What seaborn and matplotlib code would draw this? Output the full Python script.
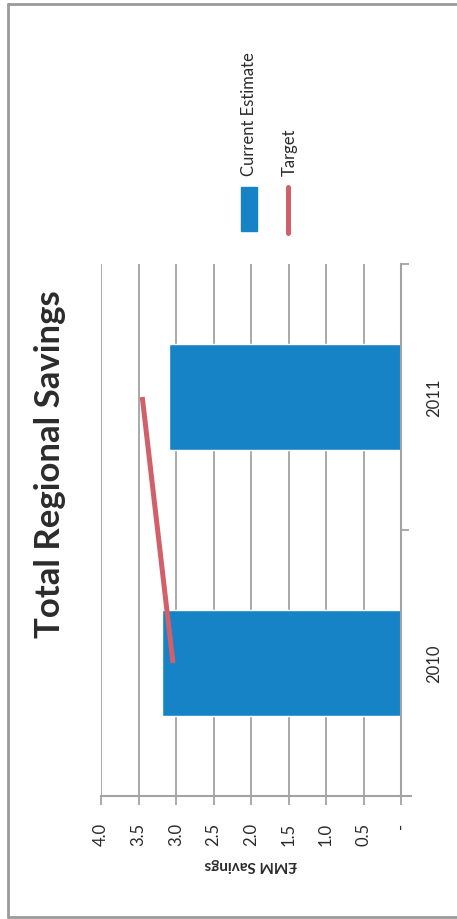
import matplotlib
matplotlib.use("Agg")
import matplotlib.pyplot as plt
import seaborn as sns
import numpy as np
from matplotlib.ticker import FuncFormatter
from matplotlib.patches import Rectangle
from matplotlib.lines import Line2D

# Data
years = ['2010', '2011']
current_estimate = [3.19, 3.09]
target = [3.04, 3.45]
value_ticks = [0, 0.5, 1.0, 1.5, 2.0, 2.5, 3.0, 3.5, 4.0]

BLUE = '#1683C6'
RED = '#D2606A'
GRID = '#a3a3a3'
TEXT = '#2b2b2b'

sns.set_theme(style='white')
plt.rcParams['font.family'] = ['Lato', 'DejaVu Sans']

W, H = 457, 920
fig = plt.figure(figsize=(W / 100, H / 100), dpi=100)

# chart is drawn turned a quarter turn anticlockwise
ax = fig.add_axes([101 / W, 123 / H, 300 / W, 532 / H])
order = years[::-1]  # 2011 on top, 2010 at bottom
sns.barplot(x=current_estimate, y=years, order=order, orient='h',
            color=BLUE, saturation=1, width=0.4, ax=ax)

pos = [order.index(y) for y in years]
ax.plot(target, pos, color=RED, lw=3.6, solid_capstyle='butt')

ax.set_xlim(4.0, 0)
ax.set_ylim(1.5, -0.5)
ax.set_xticks(value_ticks)
ax.xaxis.set_major_formatter(FuncFormatter(lambda v, p: '-' if v == 0 else f'{v:.1f}'))
ax.xaxis.grid(True, color=GRID, lw=1.3)
ax.yaxis.grid(False)
ax.set_axisbelow(True)

ax.tick_params(axis='x', bottom=True, length=6.5, width=1.3, color=GRID,
               labelrotation=90, pad=12, labelsize=12, labelcolor=TEXT)
ax.yaxis.tick_right()
ax.set_yticks([-0.5, 0.5, 1.5], minor=True)
ax.tick_params(axis='y', which='minor', right=True, length=6, width=1.3, color=GRID)
ax.tick_params(axis='y', which='major', length=0, pad=18, labelsize=12, labelcolor=TEXT)
for lbl in ax.get_yticklabels():
    lbl.set_rotation(90)
    lbl.set_va('center')

ax.set_ylabel('')
ax.set_xlabel('£MM Savings', rotation=180, fontweight='bold', fontsize=11,
              color=TEXT, labelpad=9)

for s in ['top', 'left']:
    ax.spines[s].set_visible(False)
for s in ['right', 'bottom']:
    ax.spines[s].set_color(GRID)
    ax.spines[s].set_linewidth(1.5)
ax.spines['bottom'].set_bounds(4.0, -0.13)

# title
fig.text(50 / W, 1 - 464 / H, 'Total Regional Savings', rotation=90,
         ha='center', va='center', fontsize=25, fontweight='bold', color=TEXT)

# legend
fig.patches.append(Rectangle((241 / W, 1 - 232 / H), 16 / W, 44 / H,
                             transform=fig.transFigure, color=BLUE))
fig.lines.append(Line2D([288 / W, 288 / W], [1 - 234 / H, 1 - 188 / H],
                        transform=fig.transFigure, color=RED, lw=3.6))
fig.text(249 / W, 1 - 176 / H, 'Current Estimate', rotation=90,
         ha='center', va='bottom', fontsize=12, color=TEXT)
fig.text(290 / W, 1 - 176 / H, 'Target', rotation=90,
         ha='center', va='bottom', fontsize=12, color=TEXT)

# outer frame
for xs, ys in [([8, 8], [5, 918]), ([8, W], [5, 5]), ([8, W], [918, 918])]:
    fig.lines.append(Line2D([x / W for x in xs], [1 - y / H for y in ys],
                            transform=fig.transFigure, color='#9a9a9a', lw=2))

fig.savefig('out.png', dpi=100)
